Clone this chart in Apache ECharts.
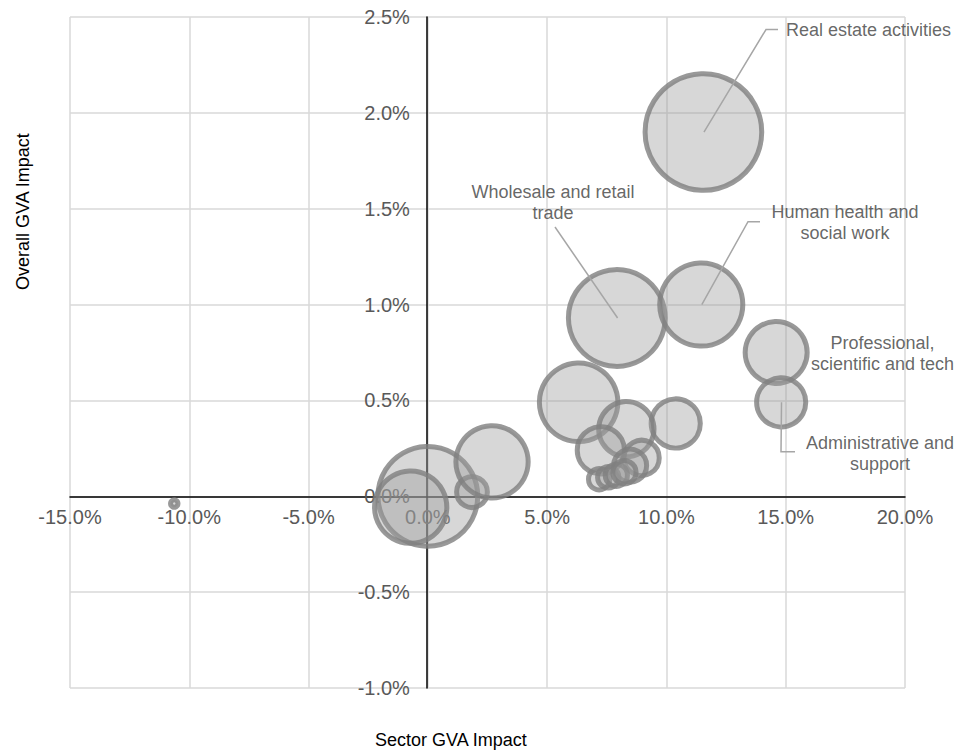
<!DOCTYPE html>
<html>
<head>
<meta charset="utf-8">
<title>Sector vs overall GVA impact</title>
<script src="https://cdn.jsdelivr.net/npm/echarts@6/dist/echarts.min.js"></script>
<style>
  html, body { margin: 0; padding: 0; background: #ffffff; }
  #chart { width: 960px; height: 754px; }
</style>
</head>
<body>
<div id="chart"></div>
<script>
// Sectors (only the named ones get a callout label)
const sectorNames = [
  'Real estate activities',
  'Wholesale and retail trade',
  'Human health and social work',
  'Professional, scientific and tech',
  'Administrative and support',
  '', '', '', '', '', '', '', '', '', '', '', '', '', '', ''
];
// Sector GVA impact (%)
const sectorImpact = [11.55, 7.92, 11.46, 14.60, 14.81, 6.32, 10.39, 8.32, 7.25, 8.96, 8.48, 7.18, 7.56, 7.90, 8.24, 0.00, -0.72, 1.85, 2.69, -10.63];
// Overall GVA impact (%)
const overallImpact = [1.90, 0.93, 1.00, 0.75, 0.49, 0.49, 0.38, 0.35, 0.24, 0.20, 0.16, 0.089, 0.099, 0.11, 0.125, 0.00, -0.057, 0.022, 0.18, -0.038];
// Sector share of GVA (%), drives bubble area
const gvaShare = [13.8, 9.5, 7.0, 3.9, 2.45, 6.25, 2.45, 3.1, 2.26, 1.26, 1.1, 0.46, 0.46, 0.5, 0.55, 10.1, 5.3, 0.96, 5.3, 0.056];

// Axis ticks (%)
const xTicks = [-15, -10, -5, 0, 5, 10, 15, 20];
const yTicks = [-1.0, -0.5, 0.0, 0.5, 1.0, 1.5, 2.0, 2.5];

// Callout text placement and leader-line elbows (pixels)
const callouts = {
  'Real estate activities': { text: 'Real estate activities', x: 786, y: 30, align: 'left', path: [[766, 29.5], [778, 29.5]] },
  'Wholesale and retail trade': { text: 'Wholesale and retail\ntrade', x: 553, y: 202.5, align: 'center', path: [[555, 227]] },
  'Human health and social work': { text: 'Human health and\nsocial work', x: 845, y: 222.5, align: 'center', path: [[748, 221.7], [760, 221.7]] },
  'Professional, scientific and tech': { text: 'Professional,\nscientific and tech', x: 882.5, y: 353, align: 'center' },
  'Administrative and support': { text: 'Administrative and\nsupport', x: 880, y: 453, align: 'center', path: [[781, 451.7], [795, 451.7]] }
};

const FONT = '"Liberation Sans", Arial, sans-serif';
const bubbleScale = 31.4;

const seriesData = sectorImpact.map(function (x, i) {
  const name = sectorNames[i];
  const item = { name: name, value: [x, overallImpact[i], gvaShare[i]] };
  if (name && callouts[name]) {
    item.label = { show: true, formatter: callouts[name].text };
  }
  return item;
});

const chart = echarts.init(document.getElementById('chart'), null, { renderer: 'svg' });

const fmtPct = function (v) { return v.toFixed(1) + '%'; };

chart.setOption({
  animation: false,
  backgroundColor: '#ffffff',
  textStyle: { fontFamily: FONT },
  grid: { left: 70, right: 55, top: 17, bottom: 66, containLabel: false },
  xAxis: {
    type: 'value',
    min: xTicks[0],
    max: xTicks[xTicks.length - 1],
    interval: xTicks[1] - xTicks[0],
    position: 'bottom',
    axisLine: { onZero: false, lineStyle: { color: '#000000', width: 1.5 } },
    axisTick: { show: false },
    axisLabel: { formatter: fmtPct, color: '#595959', fontSize: 20, margin: 11 },
    splitLine: { show: true, lineStyle: { color: '#d9d9d9', width: 1.5 } }
  },
  yAxis: {
    type: 'value',
    min: yTicks[0],
    max: yTicks[yTicks.length - 1],
    interval: yTicks[1] - yTicks[0],
    position: 'left',
    axisLine: { onZero: false, lineStyle: { color: '#000000', width: 1.5 } },
    axisTick: { show: false },
    axisLabel: { formatter: fmtPct, color: '#595959', fontSize: 20, margin: 17 },
    splitLine: { show: true, lineStyle: { color: '#d9d9d9', width: 1.5 } }
  },
  series: [{
    type: 'scatter',
    data: seriesData,
    symbol: 'circle',
    symbolSize: function (val) { return bubbleScale * Math.sqrt(val[2]); },
    itemStyle: {
      color: 'rgba(155,155,155,0.5)',
      borderColor: '#7f7f7f',
      borderWidth: 5
    },
    emphasis: { disabled: true },
    label: {
      show: false,
      color: '#404040',
      fontSize: 18,
      lineHeight: 21,
      fontFamily: FONT
    },
    labelLayout: function (params) {
      const c = callouts[sectorNames[params.dataIndex]];
      if (!c) { return; }
      return { x: c.x, y: c.y, align: c.align, verticalAlign: 'middle' };
    }
  }]
});

// Move both axes (line and tick labels) so they cross at the origin
const origin = chart.convertToPixel({ gridIndex: 0 }, [0, 0]);
const gridBottom = chart.convertToPixel({ gridIndex: 0 }, [0, yTicks[0]])[1];
const gridLeft = chart.convertToPixel({ gridIndex: 0 }, [xTicks[0], 0])[0];

// Leader lines from bubble centres to the callout text
const leaders = [];
sectorNames.forEach(function (name, i) {
  const c = callouts[name];
  if (!c || !c.path) { return; }
  const start = chart.convertToPixel({ gridIndex: 0 }, [sectorImpact[i], overallImpact[i]]);
  leaders.push({
    type: 'polyline',
    z: 10,
    silent: true,
    shape: { points: [start].concat(c.path) },
    style: { stroke: '#a6a6a6', lineWidth: 1.5, fill: null }
  });
});

chart.setOption({
  xAxis: { offset: -(gridBottom - origin[1]) },
  yAxis: { offset: -(origin[0] - gridLeft) },
  graphic: leaders.concat([
    {
      type: 'text',
      left: 375, top: 731,
      style: { text: 'Sector GVA Impact', fontSize: 18, fill: '#000000', fontFamily: FONT }
    },
    {
      type: 'text',
      x: 14, y: 290,
      rotation: Math.PI / 2,
      style: { text: 'Overall GVA Impact', fontSize: 18, fill: '#000000', fontFamily: FONT }
    }
  ])
});
</script>
</body>
</html>
